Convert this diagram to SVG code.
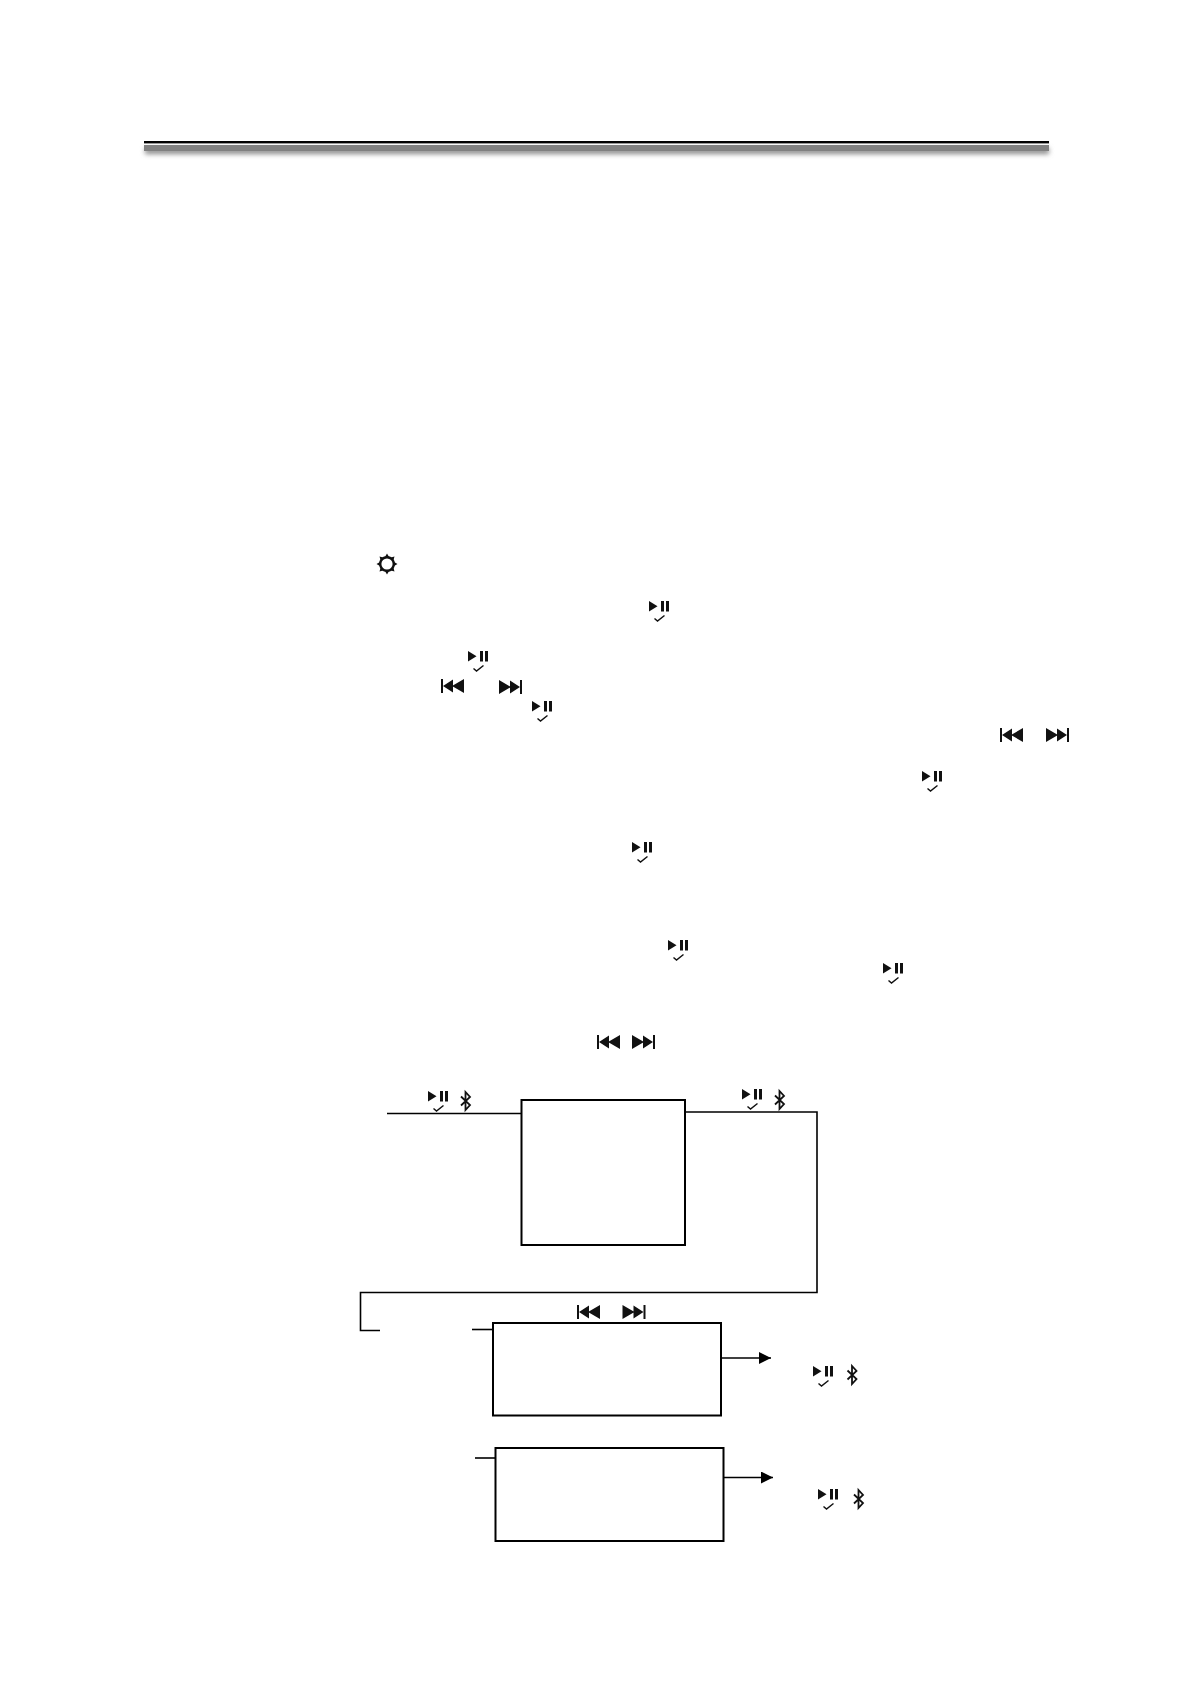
<svg xmlns="http://www.w3.org/2000/svg" width="1191" height="1684" viewBox="0 0 1191 1684">
<style>
.ln{fill:none;stroke:#000;stroke-width:1.6}
.box{fill:#fff;stroke:#000;stroke-width:2}
.i{fill:#111}
.ck{fill:none;stroke:#111;stroke-width:1.5}
.bt{fill:none;stroke:#111;stroke-width:1.8}
</style>
<defs>
<filter id="sh" x="-2%" y="-200%" width="104%" height="500%"><feGaussianBlur stdDeviation="2.5"/></filter>
<marker id="ah" markerUnits="userSpaceOnUse" markerWidth="12" markerHeight="12" refX="12" refY="6" orient="auto"><path d="M0 0L12 6L0 12Z" fill="#000"/></marker>
<g id="pp"><path class="i" d="M0 0L8.500 5.200L0 10.500Z"/><rect class="i" x="12" y="0" width="3" height="10.500"/><rect class="i" x="17" y="0" width="3" height="10.500"/><path class="ck" d="M5.500 17.500L8.500 20L15.500 14.500"/></g>
<g id="bt"><path class="bt" d="M1 4.500L10 13L5.500 18V0L10 5L1 13.500"/></g>
<g id="prev"><rect class="i" x="0" y="0" width="2" height="14"/><path class="i" d="M2 7L12 0.500V13.500ZM11 7L23 0V14L11 7Z"/></g>
<g id="next"><path class="i" d="M0 0L12 7L0 14ZM11 0.500L21 7L11 13.500Z"/><rect class="i" x="21" y="0" width="2" height="14"/></g>
<g id="gear"><circle cx="10" cy="10" r="6.800" fill="none" stroke="#111" stroke-width="2.400"/><path class="i" d="M10 -0.500L12.500 3.800H7.500ZM10 20.500L12.500 16.200H7.500ZM-0.500 10L3.800 7.500V12.500ZM20.500 10L16.200 7.500V12.500ZM2.500 2.500L7 3.800L3.800 7ZM17.500 2.500L13 3.800L16.200 7ZM2.500 17.500L7 16.200L3.800 13ZM17.500 17.500L13 16.200L16.200 13Z"/></g>
</defs>
<g id="header-rule">
<rect x="145" y="148" width="904" height="6" fill="#888" filter="url(#sh)"/>
<rect x="144" y="145" width="905" height="6" fill="#808080"/>
<rect x="144" y="141" width="905" height="2.400" fill="#000"/>
</g>
<g id="icons-text">
<use href="#gear" x="377" y="554"/>
<use href="#pp" x="649" y="601"/>
<use href="#pp" x="468" y="651"/>
<use href="#prev" x="441" y="679"/>
<use href="#next" x="499" y="680"/>
<use href="#pp" x="532" y="701"/>
<use href="#prev" x="1000" y="728"/>
<use href="#next" x="1046" y="728"/>
<use href="#pp" x="922" y="771"/>
<use href="#pp" x="632" y="842"/>
<use href="#pp" x="668" y="940"/>
<use href="#pp" x="883" y="963"/>
<use href="#prev" x="597" y="1035"/>
<use href="#next" x="632" y="1035"/>
</g>
<g id="connectors">
<path class="ln" d="M387 1113.500H521"/>
<path class="ln" d="M685 1112H817V1292.500H360.500V1330.500H380"/>
<path class="ln" stroke-width="2" d="M472 1329.500H493"/>
<path class="ln" stroke-width="2" d="M475 1458H495"/>
<path class="ln" marker-end="url(#ah)" d="M721 1358H771"/>
<path class="ln" marker-end="url(#ah)" d="M724 1477.500H773"/>
</g>
<g id="node-1"><rect class="box" x="521.500" y="1100" width="163.500" height="145"/>
<use href="#pp" x="428" y="1091"/><use href="#bt" x="460" y="1092"/><use href="#pp" x="742" y="1089"/><use href="#bt" x="774" y="1091"/></g>
<g id="node-2"><rect class="box" x="493" y="1323" width="228" height="92.500"/>
<use href="#prev" x="577" y="1305"/><use href="#next" x="622.500" y="1305"/>
<use href="#pp" x="813" y="1366"/><use href="#bt" x="846.500" y="1366"/></g>
<g id="node-3"><rect class="box" x="495.500" y="1448" width="228" height="93"/>
<use href="#pp" x="818" y="1489"/><use href="#bt" x="853" y="1490"/></g>
</svg>
